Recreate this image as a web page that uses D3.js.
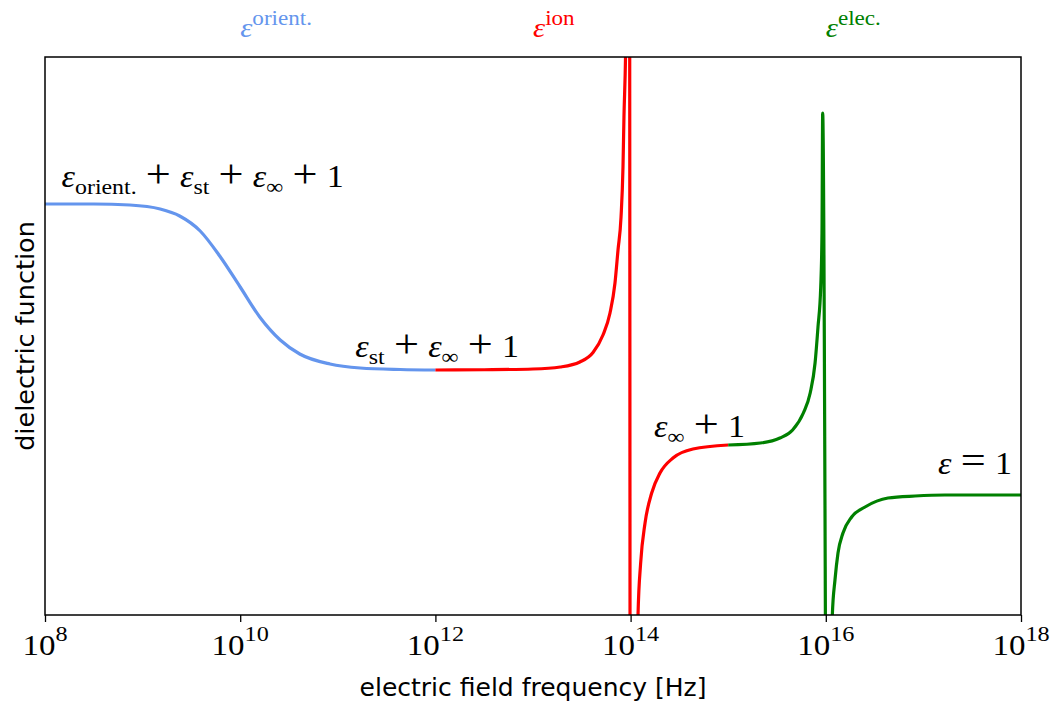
<!DOCTYPE html>
<html>
<head>
<meta charset="utf-8">
<script src="https://cdn.jsdelivr.net/npm/d3@7"></script>
<style>
  body { margin: 0; background: #fff; }
</style>
</head>
<body>
<svg id="chart" width="1057" height="704"></svg>
<script>
// Frequencies are given as decimal exponents (f = 10^exp Hz).
// Orientational (Debye) relaxation branch
const orientExp = [8.0, 8.5, 8.87, 9.18, 9.38, 9.59, 9.79, 10.0, 10.2, 10.41, 10.61, 10.92, 11.23, 11.64, 12.0];
const orientVal = [12.64, 12.64, 12.6, 12.44, 12.16, 11.56, 10.56, 9.32, 8.12, 7.2, 6.64, 6.24, 6.08, 6.02, 6.0];

// Ionic resonance branch
const ionExp = [12.0, 12.5, 13.0, 13.28, 13.48, 13.615, 13.717, 13.789, 13.84, 13.871, 13.902, 13.922, 13.932, 13.948, 13.965, 13.985,
                14.005, 14.05, 14.076, 14.103, 14.148, 14.216, 14.301, 14.434, 14.639, 15.0];
const ionVal = [6.0, 6.01, 6.04, 6.12, 6.32, 6.7, 7.4, 8.28, 9.48, 10.8, 12.12, 14.12, 16.12, 18.52, 24, 40,
                -60, -12, -3.8, -1.72, -0.12, 1.08, 1.88, 2.48, 2.84, 3.0];

// Electronic resonance branch
const elecExp = [15.0, 15.33, 15.53, 15.66, 15.77, 15.84, 15.89, 15.92, 15.948, 15.961, 15.968,
                 16.02, 16.05, 16.067, 16.094, 16.125, 16.176, 16.265, 16.402, 16.637, 16.914, 17.22, 18.0];
const elecVal = [3.0, 3.08, 3.28, 3.6, 4.28, 5.08, 6.28, 7.72, 9.32, 11.48, 16.28,
                 -20, -8, -3.8, -2.4, -1.32, -0.52, 0.12, 0.52, 0.88, 0.96, 1.0, 1.0];

const tickExponents = [8, 10, 12, 14, 16, 18];

// Header labels: ε^{name}, left edge at the given frequency exponent
const headerNames = ["orient.", "ion", "elec."];
const headerExp = [10, 13, 16];
const seriesColors = ["#6495ED", "#FF0000", "#008000"];

// Plateau annotations (exp of left edge, baseline value)
const noteExp = [8.17, 11.18, 14.24, 17.15];
const noteVal = [13.32, 6.52, 3.32, 1.84];
const notes = [
  [["ε", "i"], ["orient.", "sub"], ["+", "op"], ["ε", "i"], ["st", "sub"], ["+", "op"], ["ε", "i"], ["∞", "sub"], ["+", "op"], ["1", "r"]],
  [["ε", "i"], ["st", "sub"], ["+", "op"], ["ε", "i"], ["∞", "sub"], ["+", "op"], ["1", "r"]],
  [["ε", "i"], ["∞", "sub"], ["+", "op"], ["1", "r"]],
  [["ε", "i"], ["=", "op"], ["1", "r"]]
];

const margin = { left: 45, right: 1021, top: 57, bottom: 615 };
const svg = d3.select("#chart");
const serif = "'Liberation Serif', 'DejaVu Serif', serif";
const sans = "'DejaVu Sans', sans-serif";
const serifStretch = 1.1;

const x = d3.scaleLog().domain([1e8, 1e18]).range([margin.left, margin.right]);
const y = d3.scaleLinear().domain([-3.8, 18.52]).range([margin.bottom, margin.top]);

svg.append("defs").append("clipPath").attr("id", "plotClip")
  .append("rect")
  .attr("x", margin.left).attr("y", margin.top)
  .attr("width", margin.right - margin.left).attr("height", margin.bottom - margin.top);

const line = d3.line()
  .x(d => x(Math.pow(10, d[0])))
  .y(d => y(d[1]))
  .curve(d3.curveMonotoneX);

const series = [
  [orientExp, orientVal],
  [ionExp, ionVal],
  [elecExp, elecVal]
];

const curves = svg.append("g").attr("clip-path", "url(#plotClip)");
series.forEach(([ex, vals], i) => {
  curves.append("path")
    .datum(ex.map((e, k) => [e, vals[k]]))
    .attr("d", line)
    .attr("fill", "none")
    .attr("stroke", seriesColors[i])
    .attr("stroke-width", 3.2)
    .attr("stroke-linejoin", "round");
});

// Frame
svg.append("rect")
  .attr("x", margin.left).attr("y", margin.top)
  .attr("width", margin.right - margin.left).attr("height", margin.bottom - margin.top)
  .attr("fill", "none").attr("stroke", "#000").attr("stroke-width", 1.5);

// Bottom axis ticks
const axis = svg.append("g")
  .attr("transform", `translate(0,${margin.bottom})`)
  .call(d3.axisBottom(x)
    .tickValues(tickExponents.map(e => Math.pow(10, e)))
    .tickSize(7)
    .tickFormat(() => ""));
axis.select(".domain").remove();
axis.selectAll(".tick line").attr("stroke", "#000").attr("stroke-width", 1.3);

// Tick labels as 10^n
tickExponents.forEach(e => {
  const t = svg.append("text")
    .attr("transform", `translate(${x(Math.pow(10, e))},655) scale(${serifStretch},1)`)
    .attr("text-anchor", "middle")
    .attr("font-family", serif)
    .attr("font-size", 30)
    .attr("fill", "#000");
  t.append("tspan").text("10");
  t.append("tspan").attr("dy", -14).attr("font-size", 22).text(String(e));
});

// Math-like text helper: parts of [text, kind] with kind in
// i (italic), r (roman), op (binary operator with spacing), sub, sup
function mathText(px, py, parts, size, color, supScale) {
  const t = svg.append("text")
    .attr("transform", `translate(${px},${py}) scale(${serifStretch},1)`)
    .attr("font-family", serif)
    .attr("font-size", size)
    .attr("fill", color);
  const gap = 0.27 * size;
  let shift = 0;
  let pendingDx = 0;
  parts.forEach(([s, kind]) => {
    let target = 0;
    if (kind === "sub") target = 0.24 * size;
    if (kind === "sup") target = -0.42 * size;
    const ts = t.append("tspan").text(s);
    if (target !== shift) { ts.attr("dy", target - shift); shift = target; }
    let dx = pendingDx;
    pendingDx = 0;
    if (kind === "op") { dx += gap; pendingDx = gap; ts.attr("font-size", size * 1.3); }
    if (dx) ts.attr("dx", dx);
    if (kind === "i") ts.attr("font-style", "italic");
    if (kind === "sub" || kind === "sup") ts.attr("font-size", size * (supScale || 0.7));
  });
  return t;
}

notes.forEach((parts, i) => {
  mathText(x(Math.pow(10, noteExp[i])), y(noteVal[i]), parts, 31, "#000", 0.7);
});

headerNames.forEach((name, i) => {
  mathText(x(Math.pow(10, headerExp[i])), 37, [["ε", "i"], [name, "sup"]], 28, seriesColors[i], 0.75);
});

// Axis titles
svg.append("text")
  .attr("x", (margin.left + margin.right) / 2)
  .attr("y", 696)
  .attr("text-anchor", "middle")
  .attr("font-family", sans)
  .attr("font-size", 25)
  .attr("fill", "#000")
  .text("electric field frequency [Hz]");

svg.append("text")
  .attr("transform", `translate(34,${(margin.top + margin.bottom) / 2}) rotate(-90)`)
  .attr("text-anchor", "middle")
  .attr("font-family", sans)
  .attr("font-size", 25.5)
  .attr("fill", "#000")
  .text("dielectric function");
</script>
</body>
</html>
